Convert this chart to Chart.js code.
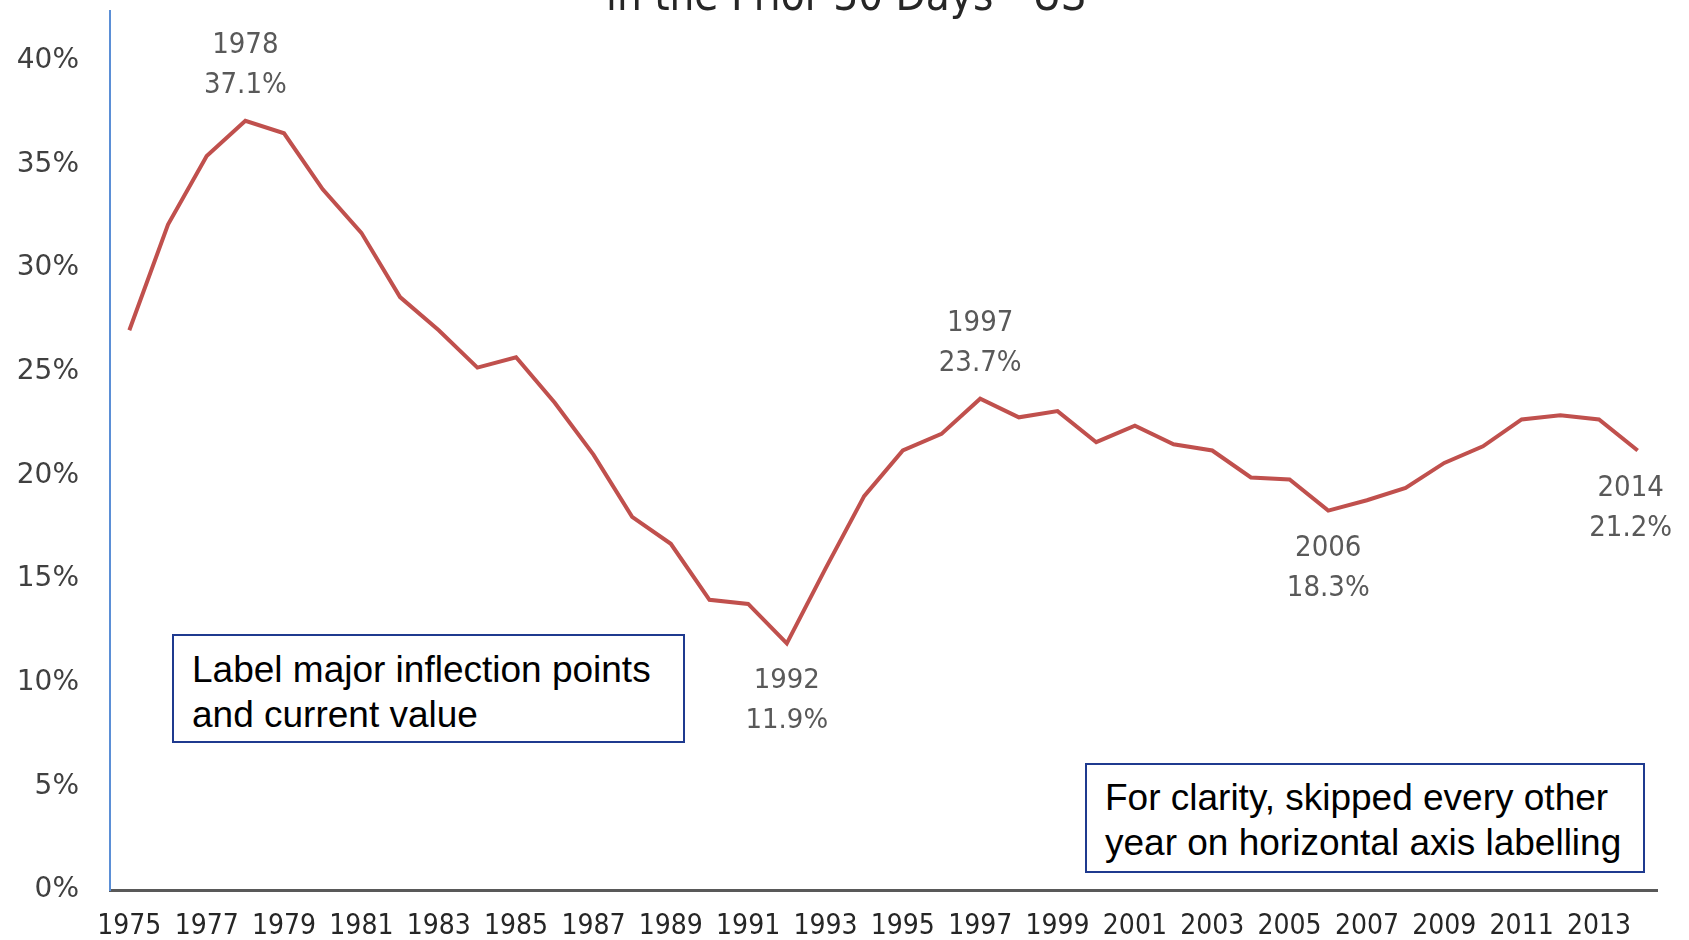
<!DOCTYPE html>
<html>
<head>
<meta charset="utf-8">
<script src="https://cdn.jsdelivr.net/npm/chart.js@4.4.1/dist/chart.umd.min.js"></script>
<style>
  body { margin: 0; background: #fff; }
  #wrap { position: relative; width: 1689px; height: 940px; overflow: hidden; }
  .note {
    position: absolute;
    box-sizing: border-box;
    border: 2px solid #1f3a8f;
    background: #fff;
    font-family: "Liberation Sans", Arial, sans-serif;
    font-size: 37px;
    line-height: 45px;
    color: #000;
    padding: 11px 0 0 18px;
    white-space: nowrap;
  }
</style>
</head>
<body>
<div id="wrap">
  <canvas id="chart" width="1689" height="940"></canvas>
  <div class="note" style="left:172px; top:634px; width:513px; height:109px;">Label major inflection points<br>and current value</div>
  <div class="note" style="left:1085px; top:763px; width:560px; height:110px; padding-top:10px;">For clarity, skipped every other<br>year on horizontal axis labelling</div>
</div>
<script>
// years 1975 - 2014
const years = [
  '1975', '1976', '1977', '1978', '1979', '1980', '1981', '1982', '1983', '1984',
  '1985', '1986', '1987', '1988', '1989', '1990', '1991', '1992', '1993', '1994',
  '1995', '1996', '1997', '1998', '1999', '2000', '2001', '2002', '2003', '2004',
  '2005', '2006', '2007', '2008', '2009', '2010', '2011', '2012', '2013', '2014'
];

// percent who smoked in the prior 30 days
const smokedPct = [
  27.0, 32.1, 35.4, 37.1, 36.5, 33.8, 31.7, 28.6, 27.0, 25.2,
  25.7, 23.5, 21.0, 18.0, 16.7, 14.0, 13.8, 11.9, 15.5, 19.0,
  21.2, 22.0, 23.7, 22.8, 23.1, 21.6, 22.4, 21.5, 21.2, 19.9,
  19.8, 18.3, 18.8, 19.4, 20.6, 21.4, 22.7, 22.9, 22.7, 21.2
];

const yTicks = [0, 5, 10, 15, 20, 25, 30, 35, 40];

// labelled inflection points (year + value) and where the text goes
const callouts = [
  { year: '1978', above: true },
  { year: '1992', above: false, wide: true },
  { year: '1997', above: true },
  { year: '2006', above: false },
  { year: '2014', above: false, dx: -7 }
];

const titleLine = 'in the Prior 30 Days - US';

const narrow = '"DejaVu Sans Condensed", "Liberation Sans Narrow", "DejaVu Sans", sans-serif';

// draws the clipped title and the point labels
const calloutPlugin = {
  id: 'callouts',
  afterDraw(chart) {
    const ctx = chart.ctx;
    ctx.save();
    ctx.fillStyle = '#262626';
    ctx.font = '44px ' + narrow;
    ctx.textAlign = 'center';
    ctx.textBaseline = 'alphabetic';
    ctx.fillText(titleLine, 846, 10, 480);

    const meta = chart.getDatasetMeta(0);
    ctx.fillStyle = '#595959';
    callouts.forEach(c => {
      const i = years.indexOf(c.year);
      const pt = meta.data[i];
      const x = pt.x + (c.dx || 0);
      const y1 = c.above ? pt.y - 75 : pt.y + 38;
      const y2 = c.above ? pt.y - 35 : pt.y + 78;
      ctx.textBaseline = 'middle';
      if (c.wide) {
        ctx.font = '26px "DejaVu Sans", Verdana, sans-serif';
        ctx.fillText(c.year, x, y1, 84);
        ctx.fillText(smokedPct[i].toFixed(1) + '%', x, y2, 90);
      } else {
        ctx.font = '29px ' + narrow;
        ctx.fillText(c.year, x, y1, 74);
        ctx.fillText(smokedPct[i].toFixed(1) + '%', x, y2, 92);
      }
    });
    ctx.restore();
  }
};

new Chart(document.getElementById('chart'), {
  type: 'line',
  data: {
    labels: years,
    datasets: [{
      data: smokedPct,
      borderColor: '#c0504d',
      borderWidth: 4,
      pointRadius: 0,
      tension: 0,
      fill: false
    }]
  },
  options: {
    responsive: false,
    animation: false,
    layout: { padding: { top: 11, right: 32, left: 0, bottom: 0 } },
    plugins: {
      legend: { display: false },
      tooltip: { enabled: false }
    },
    scales: {
      x: {
        offset: true,
        grid: { display: false, drawTicks: false, offset: true },
        border: { display: true, color: '#595959', width: 3 },
        afterFit(scale) {
          scale.height = 50;
          scale.paddingLeft = 0;
          scale.paddingRight = 0;
        },
        ticks: {
          autoSkip: false,
          maxRotation: 0,
          minRotation: 0,
          padding: 20,
          color: '#262626',
          font: { family: narrow, size: 28 },
          callback(value, index) {
            return index % 2 === 0 ? years[index] : '';
          }
        }
      },
      y: {
        min: 0,
        max: 42.4,
        grid: { display: false, drawTicks: false },
        border: { display: true, color: '#5b8fd6', width: 2 },
        afterFit(scale) {
          scale.width = 110;
          scale.paddingTop = 0;
          scale.paddingBottom = 0;
        },
        afterBuildTicks(scale) {
          scale.ticks = yTicks.map(v => ({ value: v }));
        },
        ticks: {
          padding: 31,
          color: '#404040',
          font: { family: '"DejaVu Sans", Verdana, sans-serif', size: 28 },
          callback: v => v + '%'
        }
      }
    }
  },
  plugins: [calloutPlugin]
});
</script>
</body>
</html>
